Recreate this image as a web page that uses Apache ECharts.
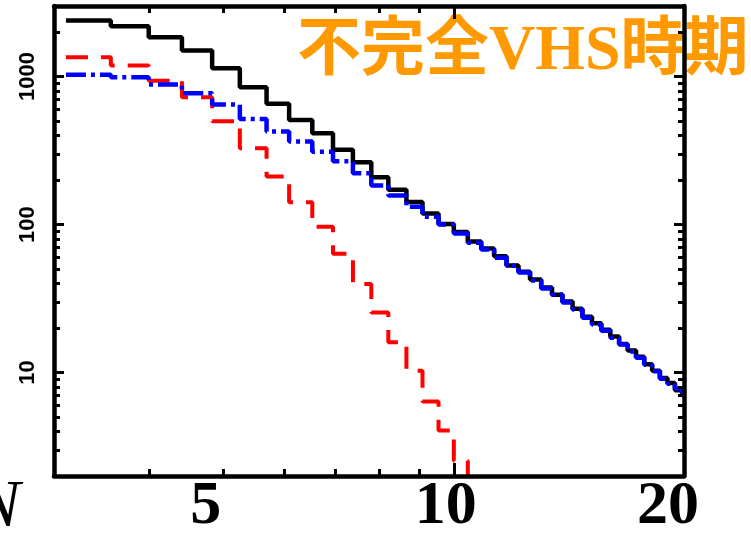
<!DOCTYPE html>
<html>
<head>
<meta charset="utf-8">
<script src="https://cdn.jsdelivr.net/npm/echarts@6/dist/echarts.min.js"></script>
<style>
html,body{margin:0;padding:0;background:#fff;}
#chart{width:751px;height:533px;}
</style>
</head>
<body>
<div id="chart"></div>
<script>
// Bin edges (x values)
const binEdges = [3.11, 3.56, 3.99, 4.41, 4.83, 5.25, 5.69, 6.09, 6.53, 6.95, 7.38, 7.80, 8.21, 8.67, 9.10, 9.55,
  10.0, 10.43, 10.86, 11.29, 11.72, 12.15, 12.58, 13.01, 13.44, 13.87, 14.30, 14.73, 15.16, 15.59, 16.02,
  16.45, 16.88, 17.31, 17.74, 18.17, 18.60, 19.03, 19.46, 19.89, 20.0];

// Counts per bin
const blackValues = [2390, 2190, 1845, 1500, 1138, 847, 655, 510, 414, 320, 264, 209, 172, 142, 119, 101,
  89, 77, 69, 61, 53, 48, 42.5, 37.5, 33.5, 30.2, 27, 23.8, 21.5, 19.5, 17.5, 15.6, 14.1, 12.8, 11.4, 10.3, 9.2, 8.5, 7.6, 7.0];
const blueValues = [1031, 989, 883, 771, 647, 518, 425, 364, 311, 268, 222, 184, 157, 132, 113, 100,
  87, 75.5, 67.8, 59.8, 52.8, 47.4, 41.9, 37.0, 33.7, 29.7, 26.7, 23.5, 21.1, 19.2, 17.2, 15.5, 13.9, 12.6, 11.3, 10.2, 9.1, 8.4, 7.8, 7.3];
const redValues = [1350, 1187, 939, 725, 499, 328, 211, 141.5, 96.8, 63.4, 39.7, 25.5, 16.0, 10.3, 6.37, 4.06, 2.54, 1.0];

// Axis ticks / labels
const xLabelValues = [5, 10, 20];
const xMinorTicks = [4, 5, 6, 7, 8, 9];
const xMajorTicks = [10];
const yLabelValues = [10, 100, 1000];
const yMajorTicks = [10, 100, 1000];
const yMinorTicks = [3, 4, 5, 6, 7, 8, 9, 20, 30, 40, 50, 60, 70, 80, 90, 200, 300, 400, 500, 600, 700, 800, 900, 2000];
const titleText = '不完全VHS時期';
const xName = 'N';

function stepData(values) {
  const pts = [];
  for (let i = 0; i < values.length; i++) pts.push([binEdges[i], values[i]]);
  pts.push([binEdges[values.length], values[values.length - 1]]);
  return pts;
}

const X_MIN = 3, X_MAX = 20, Y_MIN = 2, Y_MAX = 3000;
const axisLineStyle = { color: '#000', width: 4.5 };
const tickStyle = { color: '#000', width: 3 };

function xAxisDef(pos, ticks, len, showLine, labels) {
  const a = {
    type: 'log', logBase: 10, min: X_MIN, max: X_MAX, position: pos, z: 5,
    axisLine: { show: showLine, lineStyle: axisLineStyle },
    axisTick: { show: true, inside: true, length: len, customValues: ticks, lineStyle: tickStyle },
    splitLine: { show: false }, minorTick: { show: false },
    axisLabel: { show: false }
  };
  if (labels) {
    a.axisLabel = {
      show: true, customValues: xLabelValues, margin: 0,
      formatter: function (v) {
        const k = v === 5 ? 'a' : (v === 10 ? 'b' : 'c');
        return '{' + k + '|' + String(v) + '}';
      },
      rich: {
        a: { fontFamily: 'Liberation Serif', fontWeight: 'bold', fontSize: 62, color: '#000', padding: [0, 36, 0, 0] },
        b: { fontFamily: 'Liberation Serif', fontWeight: 'bold', fontSize: 62, color: '#000', padding: [0, 16, 0, 0] },
        c: { fontFamily: 'Liberation Serif', fontWeight: 'bold', fontSize: 62, color: '#000', padding: [0, 32, 0, 0] }
      }
    };
    a.name = xName;
    a.nameLocation = 'start';
    a.nameGap = 34;
    a.nameTextStyle = { fontFamily: 'Liberation Serif', fontStyle: 'italic', fontSize: 68, color: '#000', verticalAlign: 'top', padding: [-2, 0, 0, 0] };
  }
  return a;
}
function yAxisDef(pos, ticks, len, showLine, labels) {
  const a = {
    type: 'log', logBase: 10, min: Y_MIN, max: Y_MAX, position: pos, z: 5,
    axisLine: { show: showLine, lineStyle: axisLineStyle },
    axisTick: { show: true, inside: true, length: len, customValues: ticks, lineStyle: tickStyle },
    splitLine: { show: false }, minorTick: { show: false },
    axisLabel: { show: false }
  };
  if (labels) {
    a.axisLabel = {
      show: true, customValues: yLabelValues, rotate: 90, margin: 15,
      formatter: function (v) { return String(Math.round(v)); },
      fontFamily: 'Liberation Sans', fontWeight: 'bold', fontSize: 22, color: '#000'
    };
  }
  return a;
}

const chart = echarts.init(document.getElementById('chart'), null, { renderer: 'canvas' });
chart.setOption({
  animation: false,
  backgroundColor: '#fff',
  title: {
    text: titleText, left: 292, top: 15, z: 0,
    textStyle: { color: '#FF9900', fontSize: 64, fontWeight: 'bold', fontFamily: "'Liberation Serif', 'Noto Sans CJK JP'" }
  },
  grid: { left: 54, right: 67, top: 6, bottom: 57, containLabel: false, outerBoundsMode: 'none' },
  xAxis: [
    xAxisDef('bottom', xMinorTicks, 7, true, true),
    xAxisDef('bottom', xMajorTicks, 13, false, false),
    xAxisDef('top', xMinorTicks, 7, true, false),
    xAxisDef('top', xMajorTicks, 13, false, false)
  ],
  yAxis: [
    yAxisDef('left', yMajorTicks, 10, true, true),
    yAxisDef('left', yMinorTicks, 6, false, false),
    yAxisDef('right', yMajorTicks, 10, true, false),
    yAxisDef('right', yMinorTicks, 6, false, false)
  ],
  series: [
    { name: 'total', type: 'line', step: 'end', showSymbol: false, data: stepData(blackValues),
      xAxisIndex: 0, yAxisIndex: 0, clip: true, z: 2,
      lineStyle: { color: '#000', width: 4.5, type: 'solid' } },
    { name: 'red', type: 'line', step: 'end', showSymbol: false, data: stepData(redValues),
      xAxisIndex: 0, yAxisIndex: 0, clip: true, z: 3,
      lineStyle: { color: '#FF0000', width: 4, type: [22, 13] } },
    { name: 'blue', type: 'line', step: 'end', showSymbol: false, data: stepData(blueValues),
      xAxisIndex: 0, yAxisIndex: 0, clip: true, z: 4,
      lineStyle: { color: '#0000FF', width: 4.5, type: [20, 5, 4, 5] } }
  ]
});
</script>
</body>
</html>
